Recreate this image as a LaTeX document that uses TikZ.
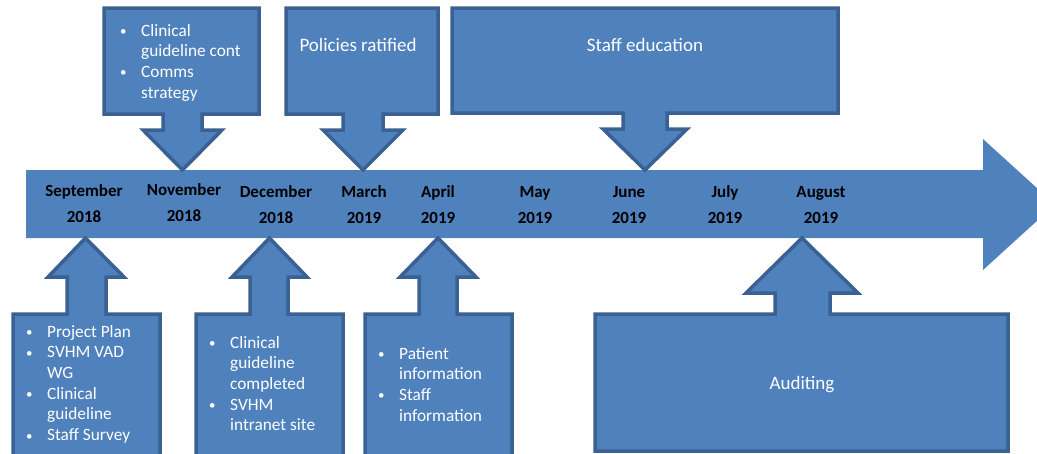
\documentclass[tikz,border=0pt]{standalone}
\usepackage{fontspec}
\setmainfont{Carlito}
\definecolor{fillblue}{HTML}{4F81BD}
\definecolor{edgeblue}{HTML}{3A6192}
\tikzset{
  callout/.style={fill=fillblue, draw=edgeblue, line width=3.5pt, line join=miter},
  bar/.style={fill=fillblue},
  month/.style={font=\fontsize{17}{26}\selectfont\bfseries, align=center, text=black, inner sep=0pt},
  title/.style={font=\fontsize{19}{22}\selectfont, text=white, inner sep=0pt},
  list/.style={font=\fontsize{17.3}{20.7}\selectfont, text=white, inner sep=0pt, anchor=base west},
}
\newcommand{\bl}{\makebox[21pt][l]{\raisebox{0.5pt}{\fontsize{13}{13}\selectfont\textbullet}}}
\newcommand{\nb}{\hspace*{21pt}}
\begin{document}
\begin{tikzpicture}[x=1pt,y=-1pt]
\useasboundingbox (0,0) rectangle (1037,453);
\clip (0,0) rectangle (1037,453);
% main timeline arrow
\fill[bar] (26,170) -- (983,170) -- (983,139) -- (1055,204.5) -- (983,270) -- (983,238) -- (26,238) -- cycle;
% top callouts
\draw[callout] (104,8) -- (259,8) -- (259,114) -- (202,114) -- (202,130) -- (222,130) -- (182.5,170) -- (143,130) -- (163,130) -- (163,114) -- (104,114) -- cycle;
\draw[callout] (286,8) -- (438,8) -- (438,114) -- (383,114) -- (383,130) -- (403,130) -- (363,170) -- (323,130) -- (343,130) -- (343,114) -- (286,114) -- cycle;
\draw[callout] (452,8) -- (838,8) -- (838,113) -- (667,113) -- (667,129) -- (687,129) -- (645,170) -- (603,129) -- (623,129) -- (623,113) -- (452,113) -- cycle;
% bottom callouts
\draw[callout] (13,460) -- (13,314) -- (67,314) -- (67,277) -- (48,277) -- (85.5,238) -- (124,277) -- (106,277) -- (106,314) -- (160,314) -- (160,460);
\draw[callout] (196,460) -- (196,314) -- (250,314) -- (250,277) -- (232,277) -- (269.5,238) -- (307,277) -- (288,277) -- (288,314) -- (343,314) -- (343,460);
\draw[callout] (365,460) -- (365,314) -- (419,314) -- (419,277) -- (400,277) -- (438,238) -- (476,277) -- (457,277) -- (457,314) -- (512,314) -- (512,460);
\draw[callout] (595,451) -- (595,314) -- (775,314) -- (775,293) -- (746,293) -- (802,238) -- (858,293) -- (830,293) -- (830,314) -- (1008,314) -- (1008,451) -- cycle;
% months
\node[month] (sep) at (84,204) {September\\2018};
\node[month] (nov) at (184,203) {November\\2018};
\node[month] (dec) at (276,205) {December\\2018};
\node[month] (mar) at (364,205) {March\\2019};
\node[month] (apr) at (438,205) {April\\2019};
\node[month] (may) at (535,205) {May\\2019};
\node[month] (jun) at (629,205) {June\\2019};
\node[month] (jul) at (725,205) {July\\2019};
\node[month] (aug) at (821,205) {August\\2019};
% titles
\node[title] (pol) at (358,45) {Policies ratified};
\node[title] (edu) at (645,45) {Staff education};
\node[title] (aud) at (802,385) {Auditing};
% lists
\node[list] (l1) at (120,36) {\begin{tabular}[t]{@{}l@{}}\bl Clinical\\ \nb guideline cont\\ \bl Comms\\ \nb strategy\end{tabular}};
\node[list] (la) at (26,337) {\begin{tabular}[t]{@{}l@{}}\bl Project Plan\\ \bl SVHM VAD\\ \nb WG\\ \bl Clinical\\ \nb guideline\\ \bl Staff Survey\end{tabular}};
\node[list] (lb) at (209,348) {\begin{tabular}[t]{@{}l@{}}\bl Clinical\\ \nb guideline\\ \nb completed\\ \bl SVHM\\ \nb intranet site\end{tabular}};
\node[list] (lc) at (378,359) {\begin{tabular}[t]{@{}l@{}}\bl Patient\\ \nb information\\ \bl Staff\\ \nb information\end{tabular}};
\end{tikzpicture}
\end{document}
